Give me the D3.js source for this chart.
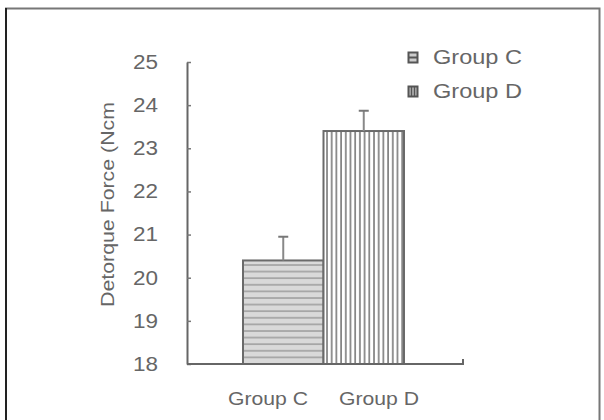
<!DOCTYPE html>
<html><head><meta charset="utf-8">
<script src="https://cdn.jsdelivr.net/npm/d3@7"></script>
<style>body{margin:0;background:#fff}svg{display:block}</style>
</head><body>
<svg id="c" width="604" height="420"></svg>
<script>
const categories = ["Group C", "Group D"];
const means = [20.4, 23.4];
const errors = [0.55, 0.47];
const yTicks = [18, 19, 20, 21, 22, 23, 24, 25];
const yLabel = "Detorque Force (Ncm";

const svg = d3.select("#c");
const font = "'Liberation Sans', Arial, sans-serif";
const txt = "#666";

// frame
svg.append("rect").attr("x", 6).attr("y", 8.5).attr("width", 593.5).attr("height", 420)
  .attr("fill", "none").attr("stroke", "#777").attr("stroke-width", 2);
svg.append("line").attr("x1", 6).attr("x2", 6).attr("y1", 8).attr("y2", 420)
  .attr("stroke", "#222").attr("stroke-width", 2);

const defs = svg.append("defs");
const pH = defs.append("pattern").attr("id", "ph").attr("patternUnits", "userSpaceOnUse")
  .attr("width", 10).attr("height", 6.6);
pH.append("rect").attr("width", 10).attr("height", 6.6).attr("fill", "#d9d9d9");
pH.append("line").attr("x1", 0).attr("x2", 10).attr("y1", 1).attr("y2", 1)
  .attr("stroke", "#a0a0a0").attr("stroke-width", 1.6);
const pV = defs.append("pattern").attr("id", "pv").attr("patternUnits", "userSpaceOnUse")
  .attr("width", 4.7).attr("height", 10).attr("x", 326);
pV.append("rect").attr("width", 4.7).attr("height", 10).attr("fill", "#fff");
pV.append("line").attr("x1", 1).attr("x2", 1).attr("y1", 0).attr("y2", 10)
  .attr("stroke", "#7a7a7a").attr("stroke-width", 1.6);
const fills = ["url(#ph)", "url(#pv)"];

const y = d3.scaleLinear().domain([18, 25]).range([364, 62]);
const x = d3.scaleBand().domain(categories).range([243, 404]).paddingInner(0);
const xl = d3.scalePoint().domain(categories).range([268, 379]);
const axisX0 = 187, axisX1 = 463;

// bars
svg.selectAll(".bar").data(categories).join("rect")
  .attr("x", d => x(d)).attr("width", x.bandwidth())
  .attr("y", (d, i) => y(means[i])).attr("height", (d, i) => y(18) - y(means[i]))
  .attr("fill", (d, i) => fills[i]).attr("stroke", "#6a6a6a").attr("stroke-width", 2);

// error bars
categories.forEach((d, i) => {
  const cx = x(d) + x.bandwidth() / 2;
  svg.append("line").attr("x1", cx).attr("x2", cx)
    .attr("y1", y(means[i])).attr("y2", y(means[i] + errors[i]))
    .attr("stroke", "#888").attr("stroke-width", 2);
  svg.append("line").attr("x1", cx - 5).attr("x2", cx + 5)
    .attr("y1", y(means[i] + errors[i])).attr("y2", y(means[i] + errors[i]))
    .attr("stroke", "#777").attr("stroke-width", 2);
});

// y axis
const ya = svg.append("g").attr("transform", `translate(${axisX0},0)`)
  .call(d3.axisLeft(y).tickValues(yTicks).tickFormat(d3.format("d"))
    .tickSizeInner(-4).tickSizeOuter(0).tickPadding(29));
ya.select(".domain").attr("stroke", "#666").attr("stroke-width", 2);
ya.selectAll(".tick line").attr("stroke", "#777").attr("stroke-width", 1.5);
ya.selectAll(".tick text").attr("fill", txt).attr("font-family", font)
  .attr("font-size", 20).attr("textLength", 25).attr("lengthAdjust", "spacingAndGlyphs");

// x axis
svg.append("path").attr("d", `M${axisX0},${y(18)}H${axisX1}V${y(18) - 5}`)
  .attr("fill", "none").attr("stroke", "#666").attr("stroke-width", 2);
svg.selectAll(".xl").data(categories).join("text")
  .attr("x", d => xl(d) - 40).attr("y", 405).text(d => d)
  .attr("fill", txt).attr("font-family", font).attr("font-size", 19)
  .attr("textLength", 80).attr("lengthAdjust", "spacingAndGlyphs");

// y label
svg.append("text").attr("transform", "translate(114,307) rotate(-90)")
  .text(yLabel).attr("fill", txt).attr("font-family", font).attr("font-size", 19)
  .attr("textLength", 205).attr("lengthAdjust", "spacingAndGlyphs");

// legend
categories.forEach((d, i) => {
  const ly = 52 + i * 34;
  const g = svg.append("g").attr("transform", `translate(408,${ly})`);
  g.append("rect").attr("x", 0.5).attr("y", 0.5).attr("width", 9).attr("height", 10)
    .attr("fill", i === 0 ? "#ccc" : "#bbb").attr("stroke", "#555").attr("stroke-width", 2);
  if (i === 0) {
    g.append("line").attr("x1", 0.5).attr("x2", 9.5).attr("y1", 5.5).attr("y2", 5.5)
      .attr("stroke", "#555").attr("stroke-width", 2);
  } else {
    [3.5, 6.5].forEach(v => g.append("line").attr("x1", v).attr("x2", v).attr("y1", 0.5).attr("y2", 10.5)
      .attr("stroke", "#555").attr("stroke-width", 1.5));
  }
  g.append("text").attr("x", 25).attr("y", 12).text(d)
    .attr("fill", txt).attr("font-family", font).attr("font-size", 20)
    .attr("textLength", 89).attr("lengthAdjust", "spacingAndGlyphs");
});
</script>
</body></html>
